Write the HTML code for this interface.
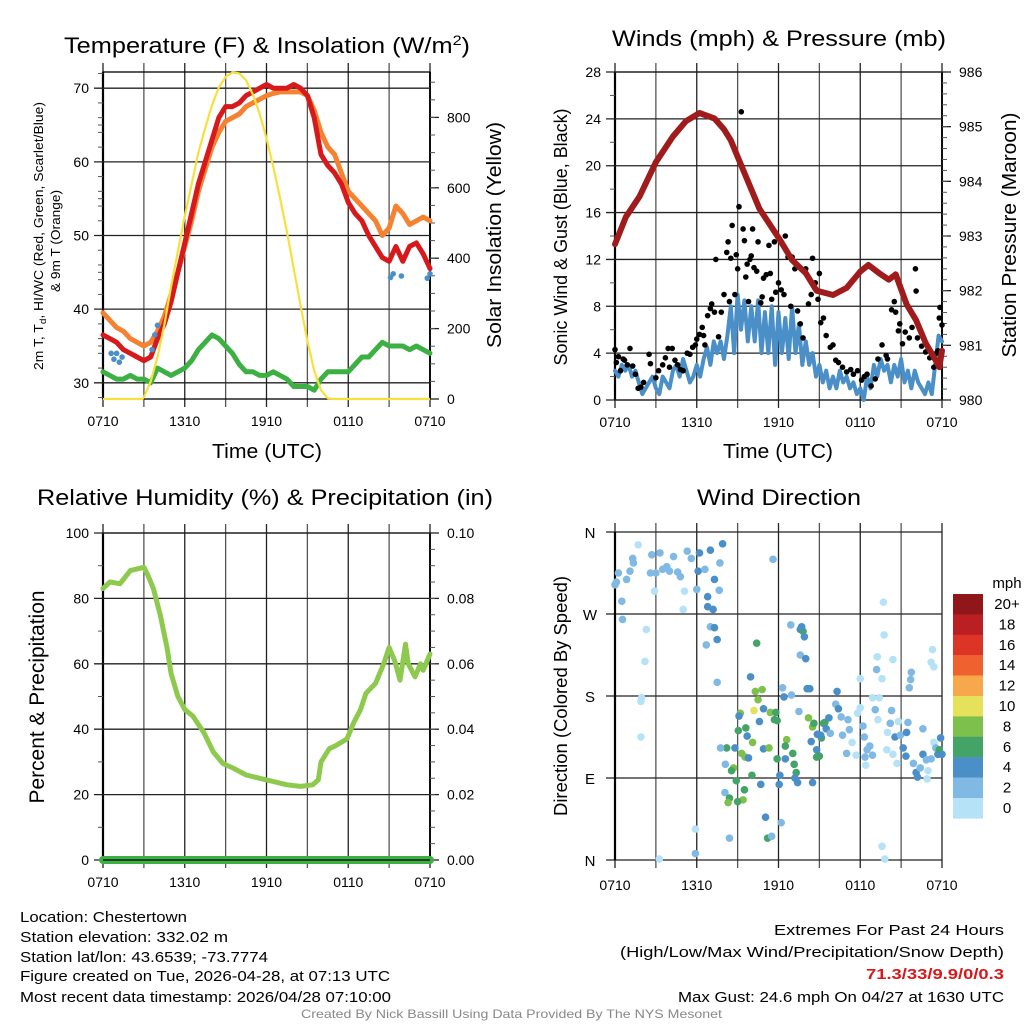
<!DOCTYPE html>
<html><head><meta charset="utf-8"><style>
html,body{margin:0;padding:0;background:#fff;}
svg{display:block;font-family:"Liberation Sans",sans-serif;}
</style></head><body>
<svg id="fig" width="1024" height="1024" viewBox="0 0 1024 1024" xmlns="http://www.w3.org/2000/svg">
<rect x="0" y="0" width="1024" height="1024" fill="#fff"/>
<g id="texts" fill="#000">
<text x="267" y="53" font-size="22" text-anchor="middle" textLength="406" lengthAdjust="spacingAndGlyphs">Temperature (F) &amp; Insolation (W/m<tspan dy="-8" font-size="14">2</tspan><tspan dy="8">)</tspan></text>
<text x="779" y="46" font-size="22" text-anchor="middle" textLength="334" lengthAdjust="spacingAndGlyphs">Winds (mph) &amp; Pressure (mb)</text>
<text x="265" y="505" font-size="22" text-anchor="middle" textLength="456" lengthAdjust="spacingAndGlyphs">Relative Humidity (%) &amp; Precipitation (in)</text>
<text x="779" y="505" font-size="22" text-anchor="middle" textLength="164" lengthAdjust="spacingAndGlyphs">Wind Direction</text>
<text x="267" y="458" font-size="20" text-anchor="middle" textLength="110" lengthAdjust="spacingAndGlyphs">Time (UTC)</text>
<text x="778" y="458" font-size="20" text-anchor="middle" textLength="110" lengthAdjust="spacingAndGlyphs">Time (UTC)</text>
<text transform="translate(43,236) rotate(-90)" font-size="13" text-anchor="middle" textLength="268" lengthAdjust="spacingAndGlyphs">2m T, T<tspan dy="3" font-size="9">d</tspan><tspan dy="-3">, HI/WC (Red, Green, Scarlet/Blue)</tspan></text>
<text transform="translate(60,241) rotate(-90)" font-size="13" text-anchor="middle" textLength="102" lengthAdjust="spacingAndGlyphs">&amp; 9m T (Orange)</text>
<text transform="translate(501,235) rotate(-90)" font-size="20" text-anchor="middle" textLength="226" lengthAdjust="spacingAndGlyphs">Solar Insolation (Yellow)</text>
<text transform="translate(567,237) rotate(-90)" font-size="18" text-anchor="middle" textLength="257" lengthAdjust="spacingAndGlyphs">Sonic Wind &amp; Gust (Blue, Black)</text>
<text transform="translate(1016,235) rotate(-90)" font-size="20" text-anchor="middle" textLength="245" lengthAdjust="spacingAndGlyphs">Station Pressure (Maroon)</text>
<text transform="translate(44,697) rotate(-90)" font-size="21" text-anchor="middle" textLength="213" lengthAdjust="spacingAndGlyphs">Percent &amp; Precipitation</text>
<text transform="translate(567,696) rotate(-90)" font-size="18" text-anchor="middle" textLength="240" lengthAdjust="spacingAndGlyphs">Direction (Colored By Speed)</text>
<text x="1007" y="588" font-size="15" text-anchor="middle">mph</text>
<g font-size="15">
<text x="20" y="922" textLength="167" lengthAdjust="spacingAndGlyphs">Location: Chestertown</text>
<text x="20" y="942" textLength="208" lengthAdjust="spacingAndGlyphs">Station elevation: 332.02 m</text>
<text x="20" y="962" textLength="248" lengthAdjust="spacingAndGlyphs">Station lat/lon: 43.6539; -73.7774</text>
<text x="20" y="981" textLength="370" lengthAdjust="spacingAndGlyphs">Figure created on Tue, 2026-04-28, at 07:13 UTC</text>
<text x="20" y="1002" textLength="371" lengthAdjust="spacingAndGlyphs">Most recent data timestamp: 2026/04/28 07:10:00</text>
</g>
<g font-size="15">
<text x="774" y="935" textLength="230" lengthAdjust="spacingAndGlyphs">Extremes For Past 24 Hours</text>
<text x="620" y="957" textLength="384" lengthAdjust="spacingAndGlyphs">(High/Low/Max Wind/Precipitation/Snow Depth)</text>
<text x="866" y="979" textLength="138" lengthAdjust="spacingAndGlyphs" fill="#d7191c" font-weight="bold">71.3/33/9.9/0/0.3</text>
<text x="678" y="1002" textLength="326" lengthAdjust="spacingAndGlyphs">Max Gust: 24.6 mph On 04/27 at 1630 UTC</text>
</g>
<text x="301" y="1018" font-size="12" fill="#888" textLength="421" lengthAdjust="spacingAndGlyphs">Created By Nick Bassill Using Data Provided By The NYS Mesonet</text>
</g>
</svg>
<script>
// ---------- data ----------
const timeTickLabels = ["0710","1310","1910","0110","0710"];
const halfHours = [0,0.5,1,1.5,2,2.5,3,3.5,4,4.5,5,5.5,6,6.5,7,7.5,8,8.5,9,9.5,10,10.5,11,11.5,12,12.5,13,13.5,14,14.5,15,15.5,16,16.5,17,17.5,18,18.5,19,19.5,20,20.5,21,21.5,22,22.5,23,23.5,24];
const temp2m = [36.5,36,35.5,34.5,34,33.5,33,33.5,36,38,41,45,49,53,57,60,63,66,67.5,67.5,68,69,69.5,70,70.5,70,70,70,70.5,70,69,66,61,59.5,58.5,57,54.5,53,52,50,48.5,47,46.5,48.5,46.5,48.5,49,47.5,45.5];
const temp9m = [39.5,38.5,37.5,37,36,35.5,35,35.5,37,39,42,45,48.5,52,56,59,62,64,65.5,66,66.5,67.5,68,68.5,69,69.3,69.5,69.5,69.5,69.5,69,67,64,62,61,58.5,56,55,54,53,52,50,51,54,53,51.5,52,52.5,52];
const dewpoint = [31.5,31,30.5,30.5,31,30.5,30.5,30,32,31.5,31,31.5,32,33,34.5,35.5,36.5,36,35,34,32.5,31.5,31.5,31,31,31.5,31,30.5,29.5,29.5,29.5,29,30.5,31.5,31.5,31.5,31.5,32.5,33.5,33.5,34.5,35.5,35,35,35,34.5,35,34.5,34];
const chillHours = [0.6,0.8,1.0,1.2,1.4,3.6,3.8,4.0,21.1,21.3,21.9,23.8,24];
const chillValues = [34,33.2,34,32.8,33.5,34.5,36.5,37.8,44.3,44.8,44.5,44.2,44.8];
const insolHours = [0,2.9,3,3.5,4,4.5,5,5.5,6,6.5,7,7.5,8,8.5,9,9.5,10,10.5,11,11.5,12,12.5,13,13.5,14,14.5,15,15.5,16,16.5,17,24];
const insolValues = [0,0,5,50,120,210,320,420,520,610,700,770,835,885,915,928,925,905,865,810,740,660,570,475,370,265,165,80,25,2,0,0];
const pressHours = [0,0.8,1.8,3,4.25,5.2,6.2,7.3,8,8.5,9.1,10.6,12.1,13,14,14.8,16,17,18,18.6,19.5,20.1,20.6,21.4,22.1,22.8,23.6,23.8,24];
const pressValues = [982.85,983.35,983.72,984.35,984.82,985.1,985.25,985.15,984.95,984.75,984.39,983.5,982.93,982.56,982.32,982.0,981.92,982.05,982.35,982.47,982.3,982.2,982.3,981.75,981.46,981.04,980.7,980.6,980.9];
const windValues = [2.5,2,3,2.5,3,2,2.5,1.5, 0.5,1,1.5,2,1,0.5,2,1.5, 1,2.5,3,2,3.5,2.5,1.5,2, 3,2,3.5,4.5,3,5,4,5, 3.5,5.5,8,4,9,6,8.5,5, 8,5,8.5,4,7.5,4,8,3, 7.5,4,7,3.5,8,4,6.5,3, 5,3,4,2,3,1.5,2.5,1, 2,1,2.5,1.5,2,1,1.5,0.5, 1,0,2,1,3,2,3.5,2.5, 3,1.5,3,2,3.5,1.5,2.5,1, 2.5,1.5,1,0.5,1.5,0.5,3,5.5, 5];
const gustHours = [0,0.1,0.25,0.4,0.6,0.7,0.9,1.1,1.3,1.5,1.7,1.9,2.1,2.5,2.6,3.0,3.2,3.5,3.7,3.9,4.0,4.2,4.4,4.6,4.8,5.0,5.3,5.5,5.7,5.9,6.0,6.2,6.4,6.5,6.6,6.8,7.0,7.1,7.3,7.4,7.6,7.8,8.0,8.2,8.3,8.4,8.5,8.6,8.8,8.9,9.0,9.1,9.27,9.4,9.5,9.6,9.7,9.8,9.9,10.0,10.1,10.2,10.4,10.5,10.7,10.8,10.9,11.1,11.3,11.4,11.5,11.7,11.8,12.0,12.2,12.4,12.5,12.7,12.9,13.0,13.2,13.4,13.6,13.8,14.0,14.2,14.4,14.5,14.7,14.9,15.0,15.1,15.3,15.5,15.8,16.0,16.2,16.4,16.7,17.0,17.3,17.5,17.8,18.1,18.3,18.5,18.8,19.1,19.3,19.6,19.9,20.0,20.3,20.5,20.6,20.8,20.9,21.1,21.3,21.6,21.8,22.05,22.1,22.2,22.5,22.8,23.1,23.4,23.6,23.7,23.8,23.85,24];
const gustValues = [4.3,3.2,3.7,2.5,3.5,3.4,3.0,4.4,2.9,2.2,1.0,1.1,1.5,3.9,3.1,1.9,2.5,3.0,3.6,4.4,2.8,4.4,3.4,3.0,2.6,2.5,4.0,3.9,4.5,4.7,5.2,5.6,6.2,5.5,4.7,7.2,7.8,8.2,7.5,12.0,5.4,7.5,9.0,12.6,13.5,8.4,12.1,14.9,9.0,12.4,11.2,16.5,24.6,14.6,13.6,10.5,11.6,8.4,12.0,12.3,14.6,11.3,11.0,13.5,8.3,8.8,10.4,10.7,13.2,10.8,8.6,13.5,9.2,10.0,9.4,9.0,14.0,12.2,8.0,12.2,11.2,7.6,6.5,5.3,11.2,8.2,9.0,12.1,10.0,8.6,10.8,6.6,7.0,5.5,4.5,4.7,3.4,3.2,2.8,2.4,2.6,2.2,2.5,1.7,2.0,2.2,1.2,1.8,3.5,4.7,3.8,3.5,7.7,8.4,7.5,5.9,6.5,4.8,5.8,5.3,6.2,11.2,9.3,5.3,4.6,4.1,3.6,2.8,4.0,4.2,7.0,7.9,6.4];
const rhHours = [0,0.5,1.25,2,3,3.3,3.7,4.2,4.7,5,5.5,6,6.6,7.4,8.1,8.8,9.6,10.5,11.5,12.5,13.5,14.5,15.4,15.8,16,16.6,17.1,17.9,18.4,18.9,19.3,20,20.6,21,21.4,21.8,22.2,22.4,22.9,23.3,23.5,24];
const rhValues = [83,85,84.5,88.5,89.5,87,83,75,65,57,50,46,44,39,33,29.5,28,26,25,24,23,22.5,23,24.5,30,34,35,37,42,46,51,54,60,65,61,55,66,60,56,60,58,63];
const precipHours = [0,24];
const precipValues = [0,0];
const dirHours = [0,0.25,0.85,1.1,1.35,1.7,1.3,0.5,0.55,2.3,2.2,1.9,1.95,1.9,2.7,3.3,3.8,4.3,4.8,5.1,5.0,2.9,3.25,5.3,5.6,6.1,6.2,7.0,7.9,6.6,7.3,6.8,6.8,7.2,7.0,7.3,7.5,6.7,7.5,7.7,7.65,6.0,5.9,5.9,4.0,4.6,3.0,3.5,2.6,0.1,
10.4,9.95,10.3,10.8,10.2,10.5,10.9,11.4,11.8,11.7,11.9,9.2,9.1,9.05,9.6,9.7,10.1,8.8,8.2,7.75,8.1,8.7,8.55,8.9,9.3,9.55,9.8,10.05,10.6,10.9,11.3,10.7,9.5,9.4,8.07,8.4,8.3,9.0,11.05,11.2,11.5,8.4,12.2,11.9,12.5,12.1,12.05,12.6,12.5,13.05,13.15,13.3,13.2,13.4,14.5,12.3,12.4,12.95,13.5,14.2,14.5,14.6,14.4,14.8,14.8,15.0,15.15,15.1,15.3,15.4,15.7,15.5,15.8,14.85,
12.9,13.6,13.8,13.9,13.7,13.6,14.0,14.1,14.3,11.6,
16.3,16.2,16.4,16.6,17.1,17.2,16.7,17.0,17.4,17.7,17.8,18.0,18.2,18.3,18.35,18.4,18.5,18.7,18.0,18.9,19.1,19.2,19.25,19.6,19.4,19.3,19.7,19.75,20.0,19.95,20.4,20.3,20.2,20.55,20.7,20.8,20.95,21.15,21.35,21.4,21.5,21.6,21.7,21.75,21.9,22.1,22.2,22.4,22.6,22.6,22.85,22.97,22.9,23.2,23.3,23.2,23.4,23.4,23.55,23.7,23.8,23.9,24.0,19.6,19.8,18.9,20.4];
const dirValues = [302,315,308,317,326,346,331,284,264,253,218,174,178,135,335,337,322,333,311,295,275,295,1,339,331,317,337,340,347,319,308,289,278,275,256,255,242,236,195,326,296,297,34,7,317,316,315,319,315,305,
238,201,185,187,164,176,166,162,162,154,153,161,158,142,145,136,129,123,123,123,105,101,98,87,117,113,112,93,152,122,123,83,77,66,74,68,63,64,47,24,26,24,41,111,111,93,83,132,125,117,105,96,90,85,85,189,179,181,163,156,146,150,130,121,113,114,134,137,150,151,156,144,139,138,
258,253,251,245,256,225,221,188,188,330,
185,171,166,157,154,143,137,117,129,115,161,167,147,135,113,104,121,125,199,178,165,209,223,199,178,154,283,247,140,121,220,164,150,135,106,152,137,123,114,140,151,189,198,206,106,96,91,101,144,116,110,98,89,111,231,217,212,129,123,116,121,134,116,15,1,115,116];
const dirSpeeds = [2,2,2,2,2,0,2,2,2,0,0,0,0,0,2,2,2,2,2,0,0,0,0,2,2,4,4,4,4,2,4,4,4,4,2,4,4,2,2,2,2,2,0,2,2,2,2,2,2,2,
6,4,8,8,10,8,4,8,6,6,6,8,4,6,6,4,8,4,6,2,2,8,6,6,8,8,4,6,4,4,8,4,6,8,2,6,8,6,4,6,2,2,2,6,4,4,4,8,6,6,6,6,4,4,4,2,4,2,2,8,8,6,4,4,6,6,6,4,6,6,4,4,2,4,
2,4,6,4,4,2,4,4,4,2,
4,2,4,2,2,2,2,2,0,0,0,0,2,2,2,0,2,2,0,0,2,2,0,0,0,0,0,0,0,0,0,2,2,4,0,0,2,4,4,4,2,2,2,2,2,4,4,2,2,4,2,0,0,2,0,0,0,0,2,4,6,4,4,0,0,2,0];
const speedLabels = ["20+","18","16","14","12","10","8","6","4","2","0"];
const speedColors = ["#8f1619","#bb1f24","#dc3427","#ef6230","#f6a84a","#e6e15a","#7dc04b","#44a366","#4a8fc7","#80b9e3","#b6e2f7"];
const tempTicks = [30,40,50,60,70];
const insolTicks = [0,200,400,600,800];
const windTicks = [0,4,8,12,16,20,24,28];
const pressTicks = [980,981,982,983,984,985,986];
const rhTicks = [0,20,40,60,80,100];
const precipTicks = ["0.00","0.02","0.04","0.06","0.08","0.10"];
const dirTicks = [0,90,180,270,360];
const dirLabels = ["N","E","S","W","N"];

// ---------- helpers ----------
const NS = "http://www.w3.org/2000/svg";
const svg = document.getElementById("fig");
function mk(tag, attrs, parent){const e=document.createElementNS(NS,tag);for(const k in attrs)e.setAttribute(k,attrs[k]);(parent||svg).appendChild(e);return e;}
function lin(d0,d1,r0,r1){return v=>r0+(v-d0)*(r1-r0)/(d1-d0);}
function pathD(xs,ys,fx,fy){return xs.map((h,i)=>(i?"L":"M")+fx(h).toFixed(1)+","+fy(ys[i]).toFixed(1)).join("");}

function frame(g,X0,X1,Y0,Y1,name){
  // vertical grid every 3h
  for(let k=0;k<=8;k++){
    const x=X0+(X1-X0)*k/8;
    const l=mk("line",{x1:x,x2:x,y1:Y0-9,y2:Y1+8,stroke:(k%2?"#555":"#222"),"stroke-width":1.3},g);
    
    
  }
  for(let k=0;k<5;k++){
    const t=mk("text",{x:X0+(X1-X0)*k/4,y:Y1+27,"font-size":14,"text-anchor":"middle"},g);
    t.textContent=timeTickLabels[k];
    
    
  }
  const b=mk("rect",{x:X0,y:Y0,width:X1-X0,height:Y1-Y0,fill:"none",stroke:"#000","stroke-width":1.3},g);
  
  
  mk("line",{x1:X0,x2:X0,y1:Y0,y2:Y1,stroke:"#000","stroke-width":2.2},g);
  mk("line",{x1:X1,x2:X1,y1:Y0,y2:Y1,stroke:"#000","stroke-width":1.8},g);
}
function leftAxis(g,X0,X1,fy,ticks,labels,minor,name,grid){
  ticks.forEach((v,i)=>{
    const y=fy(v);
    const l=mk("line",{x1:X0-9,x2:grid?X1:X0,y1:y,y2:y,stroke:"#222","stroke-width":1.3},g);
    
    
    const t=mk("text",{x:X0-14,y:y+5,"font-size":14,"text-anchor":"end"},g);
    t.textContent=labels[i];
    
    
  });
  minor.forEach(v=>{const y=fy(v);mk("line",{x1:X0-5,x2:X0,y1:y,y2:y,stroke:"#555","stroke-width":1},g);});
}
function rightAxis(g,X1,fy,ticks,labels,minor,name){
  ticks.forEach((v,i)=>{
    const y=fy(v);
    mk("line",{x1:X1,x2:X1+9,y1:y,y2:y,stroke:"#222","stroke-width":1.3},g);
    const t=mk("text",{x:X1+17,y:y+5,"font-size":14},g);
    t.textContent=labels[i];
    
    
  });
  minor.forEach(v=>{const y=fy(v);mk("line",{x1:X1,x2:X1+5,y1:y,y2:y,stroke:"#555","stroke-width":1},g);});
}
function range(a,b,s){const r=[];for(let v=a;v<=b+1e-9;v+=s)r.push(+v.toFixed(4));return r;}

// ---------- panel 1: temperature ----------
{
  const X0=103,X1=430,Y0=72,Y1=399;
  const g=mk("g",{});
  
  
  const fx=lin(0,24,X0,X1), fy=lin(27.8,72.2,Y1,Y0), fyR=lin(0,929,Y1,Y0);
  frame(g,X0,X1,Y0,Y1,'temperature');
  leftAxis(g,X0,X1,fy,tempTicks,tempTicks.map(String),range(35,65,10).concat([28,32,34,36,38,42,44,46,48,52,54,56,58,62,64,66,68,72]),'temperature-y',true);
  rightAxis(g,X1,fyR,insolTicks,insolTicks.map(String),range(50,900,50),'insolation-y');
  const o=mk("path",{d:pathD(halfHours,temp9m,fx,fy),fill:"none",stroke:"#f58231","stroke-width":5,"stroke-linejoin":"round","stroke-linecap":"round"},g);
  
  
  const r=mk("path",{d:pathD(halfHours,temp2m,fx,fy),fill:"none",stroke:"#d7191c","stroke-width":5,"stroke-linejoin":"round","stroke-linecap":"round"},g);
  
  
  const d=mk("path",{d:pathD(halfHours,dewpoint,fx,fy),fill:"none",stroke:"#3cb043","stroke-width":5,"stroke-linejoin":"round","stroke-linecap":"round"},g);
  
  
  chillHours.forEach((h,i)=>{
    const c=mk("circle",{cx:fx(h),cy:fy(chillValues[i]),r:2.8,fill:"#4a8fc7"},g);
    
    
  });
  const y=mk("path",{d:pathD(insolHours,insolValues,fx,fyR),fill:"none",stroke:"#f7e03c","stroke-width":2.2,"stroke-linejoin":"round"},g);
  
  
}

// ---------- panel 2: winds ----------
{
  const X0=615,X1=942,Y0=72,Y1=400;
  const g=mk("g",{});
  
  
  const fx=lin(0,24,X0,X1), fy=lin(0,28,Y1,Y0), fyR=lin(980,986,Y1,Y0);
  frame(g,X0,X1,Y0,Y1,'winds');
  leftAxis(g,X0,X1,fy,windTicks,windTicks.map(String),range(2,26,4),'wind-y',true);
  rightAxis(g,X1,fyR,pressTicks,pressTicks.map(String),range(980.2,985.8,0.2),'pressure-y');
  const wh=windValues.map((v,i)=>i*0.25);
  const w=mk("path",{d:pathD(wh,windValues,fx,fy),fill:"none",stroke:"#4a8fc7","stroke-width":4,"stroke-linejoin":"round","stroke-linecap":"round"},g);
  
  
  gustHours.forEach((h,i)=>{
    const c=mk("circle",{cx:fx(h),cy:fy(gustValues[i]),r:2.8,fill:"#000"},g);
    
    
  });
  const p=mk("path",{d:pathD(pressHours,pressValues,fx,fyR),fill:"none",stroke:"#a01c1c","stroke-width":6,"stroke-linejoin":"round","stroke-linecap":"round"},g);
  
  
}

// ---------- panel 3: humidity ----------
{
  const X0=103,X1=430,Y0=533,Y1=860;
  const g=mk("g",{});
  
  
  const fx=lin(0,24,X0,X1), fy=lin(0,100,Y1,Y0), fyR=lin(0,0.10,Y1,Y0);
  frame(g,X0,X1,Y0,Y1,'humidity');
  leftAxis(g,X0,X1,fy,rhTicks,rhTicks.map(String),range(10,90,20),'humidity-y',true);
  rightAxis(g,X1,fyR,precipTicks.map(Number),precipTicks,range(0.005,0.095,0.005),'precip-y');
  const h=mk("path",{d:pathD(rhHours,rhValues,fx,fy),fill:"none",stroke:"#8dc94d","stroke-width":5,"stroke-linejoin":"round","stroke-linecap":"round"},g);
  
  
  const pr=mk("path",{d:pathD(precipHours,precipValues,fx,fyR),fill:"none",stroke:"#3cb043","stroke-width":8,"stroke-linecap":"round"},g);
  
  
  mk("line",{x1:X0,x2:X1,y1:Y1,y2:Y1,stroke:"#1a1a1a","stroke-width":1.5},g);
}

// ---------- panel 4: wind direction ----------
{
  const X0=615,X1=942,Y0=532,Y1=860;
  const g=mk("g",{});
  
  
  const fx=lin(0,24,X0,X1), fy=lin(0,360,Y1,Y0);
  for(let k=0;k<=8;k++){
    const x=X0+(X1-X0)*k/8;
    const l=mk("line",{x1:x,x2:x,y1:Y0-9,y2:Y1+8,stroke:(k%2?"#555":"#222"),"stroke-width":1.3},g);
    
    
  }
  for(let k=0;k<5;k++){
    const t=mk("text",{x:X0+(X1-X0)*k/4,y:Y1+30,"font-size":14,"text-anchor":"middle"},g);
    t.textContent=timeTickLabels[k];
    
    
  }
  dirTicks.forEach((v,i)=>{
    const y=fy(v);
    mk("line",{x1:X0-9,x2:X1,y1:y,y2:y,stroke:"#222","stroke-width":1.3},g);
    const t=mk("text",{x:590,y:y+6,"font-size":15,"text-anchor":"middle"},g);
    t.textContent=dirLabels[i];
    
    
  });
  mk("line",{x1:X0,x2:X0,y1:Y0,y2:Y1,stroke:"#000","stroke-width":2.2},g);
  dirHours.forEach((h,i)=>{
    const idx=Math.max(0,10-Math.min(10,Math.round(dirSpeeds[i]/2)));
    const c=mk("circle",{cx:fx(h),cy:fy(dirValues[i]),r:3.8,fill:speedColors[idx]},g);
    
    
  });
  speedLabels.forEach((lab,i)=>{
    const y=594+i*20.4;
    const r=mk("rect",{x:953,y:y,width:30,height:20.6,fill:speedColors[i]},g);
    
    
    const t=mk("text",{x:1007,y:y+15,"font-size":15,"text-anchor":"middle"},g);
    t.textContent=lab;
    
    
  });
}
svg.appendChild(document.getElementById("texts"));
</script>
</body></html>
